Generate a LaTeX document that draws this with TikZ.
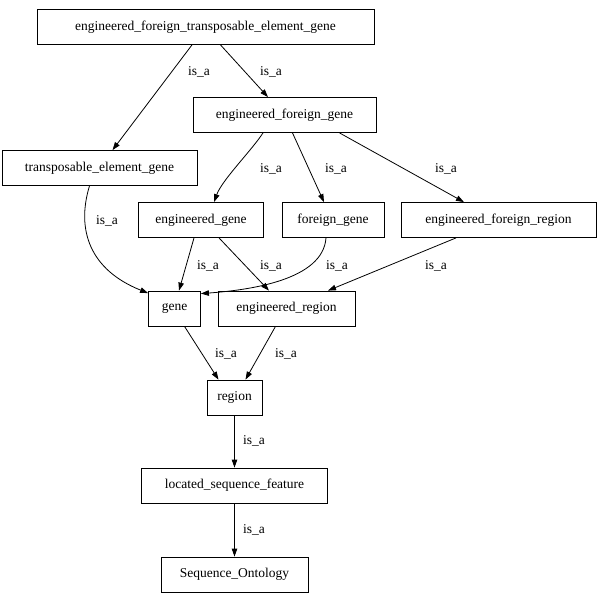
\documentclass[tikz,border=0pt]{standalone}
\usepackage{fontspec}
\setmainfont{Liberation Serif}
\usetikzlibrary{arrows.meta}

\begin{document}
\begin{tikzpicture}[x=1pt, y=-1pt,
    term/.style={draw=black, rectangle, line width=0.8pt, minimum height=35pt, inner sep=0pt, font=\fontsize{13.5}{16}\selectfont},
    isa/.style={draw=black, line width=0.8pt, -{Triangle[length=8pt,width=5.5pt]}},
    lbl/.style={inner sep=0pt, font=\fontsize{13.5}{16}\selectfont}]
            \useasboundingbox (0,0) rectangle (598,600);
            \node[term, minimum width=337pt] (eftg) at (205.50,27.00) {engineered\_foreign\_transposable\_element\_gene};
            \node[term, minimum width=183pt] (efg) at (284.50,115.00) {engineered\_foreign\_gene};
            \node[term, minimum width=195pt] (teg) at (99.50,168.00) {transposable\_element\_gene};
            \node[term, minimum width=125pt] (eg) at (201.00,220.00) {engineered\_gene};
            \node[term, minimum width=102pt] (fg) at (333.00,220.00) {foreign\_gene};
            \node[term, minimum width=195pt] (efr) at (498.50,220.00) {engineered\_foreign\_region};
            \node[term, minimum width=52pt] (gene) at (174.50,308.50) {gene};
            \node[term, minimum width=137pt] (er) at (286.50,308.50) {engineered\_region};
            \node[term, minimum width=55pt] (region) at (234.50,397.50) {region};
            \node[term, minimum width=186pt] (lsf) at (234.50,485.50) {located\_sequence\_feature};
            \node[term, minimum width=147pt] (so) at (234.50,574.50) {Sequence\_Ontology};
            \draw[isa] ([xshift=-13.5pt]eftg.south) -- ([xshift=13pt]teg.north);
            \draw[isa] ([xshift=15pt]eftg.south) -- ([xshift=-16.5pt]efg.north);
            \draw[isa] ([xshift=-21.5pt]efg.south) .. controls (252,150) and (222,180) .. ([xshift=13pt]eg.north);
            \draw[isa] ([xshift=8pt]efg.south) -- ([xshift=-9pt]fg.north);
            \draw[isa] ([xshift=55pt]efg.south) -- ([xshift=-34.5pt]efr.north);
            \draw[isa] ([xshift=-10pt]teg.south) .. controls (76,230) and (90,270) .. ([yshift=-2.5pt]gene.north west);
            \draw[isa] ([xshift=-7pt]eg.south) -- ([xshift=4.5pt]gene.north);
            \draw[isa] ([xshift=18pt]eg.south) -- ([xshift=-17.5pt]er.north);
            \draw[isa] ([xshift=-7pt]fg.south) .. controls (323,280) and (250,290) .. ([yshift=-3pt]gene.north east);
            \draw[isa] ([xshift=-42.5pt]efr.south) -- ([xshift=41.5pt]er.north);
            \draw[isa] ([xshift=10pt]gene.south) -- ([xshift=-16pt]region.north);
            \draw[isa] ([xshift=-11pt]er.south) -- ([xshift=11pt]region.north);
            \draw[isa] (region.south) -- (lsf.north);
            \draw[isa] (lsf.south) -- (so.north);
            \node[lbl] (l1) at (199.00,72.00) {is\_a};
            \node[lbl] (l2) at (271.00,72.00) {is\_a};
            \node[lbl] (l3) at (271.00,169.00) {is\_a};
            \node[lbl] (l4) at (336.00,169.00) {is\_a};
            \node[lbl] (l5) at (446.00,169.00) {is\_a};
            \node[lbl] (l6) at (107.00,221.00) {is\_a};
            \node[lbl] (l7) at (208.00,266.00) {is\_a};
            \node[lbl] (l8) at (271.00,266.00) {is\_a};
            \node[lbl] (l9) at (337.00,266.00) {is\_a};
            \node[lbl] (l10) at (436.00,266.00) {is\_a};
            \node[lbl] (l11) at (226.00,354.00) {is\_a};
            \node[lbl] (l12) at (286.00,354.00) {is\_a};
            \node[lbl] (l13) at (254.00,441.00) {is\_a};
            \node[lbl] (l14) at (254.00,530.00) {is\_a};
        \end{tikzpicture}
\end{document}
